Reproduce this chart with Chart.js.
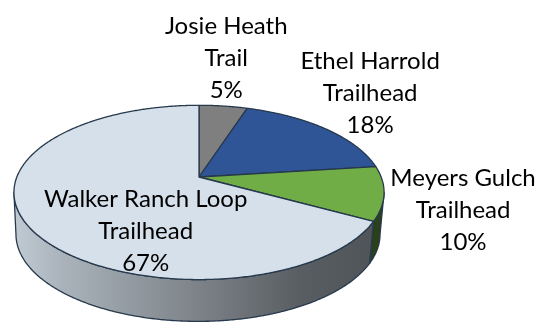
<!DOCTYPE html>
<html>
<head>
<meta charset="utf-8">
<script src="https://cdn.jsdelivr.net/npm/chart.js@4.4.1/dist/chart.umd.min.js"></script>
<style>
  html, body { margin: 0; padding: 0; background: #ffffff; }
  #wrap { width: 541px; height: 323px; }
</style>
</head>
<body>
<div id="wrap"><canvas id="visits" width="541" height="323"></canvas></div>
<script>
// Trailhead names (one entry per label line) and their share of visits, in percent
const trailNames = [
  ['Josie Heath', 'Trail'],
  ['Ethel Harrold', 'Trailhead'],
  ['Meyers Gulch', 'Trailhead'],
  ['Walker Ranch Loop', 'Trailhead']
];
const shares = [5, 18, 10, 67];
const sliceColors = ['#7f7f7f', '#2f5597', '#70ad47', '#d5e0ea'];

// Perspective of the tilted disc, in multiples of the radius Chart.js lays out
const VIEW = {
  sx: 183 / 140,        // horizontal half-width of the top face
  sy: 84.8 / 140,       // vertical squash of the top face
  k: 0.177,             // foreshortening: far rim shrinks, near rim grows
  depth: 42 / 140,      // thickness of the disc
  bottomShift: -1 / 140,
  bottomScale: 180 / 183
};
// Side-wall lighting from the left (position across the disc, brightness factor)
const SHADE_STOPS = [[0, 0.9], [0.13, 0.8], [0.5, 0.58], [0.77, 0.42], [1, 0.37]];
// Label block centre relative to the rim point at each slice's mid angle
const LABEL_NUDGE = [[3, -49], [45, -36], [79, 16], [119, 6]];
const LABEL_FONT = '24px Lato';
const LINE_GAP = 32;
const CAP = 17;

function project(arc, ang, bottom) {
  const R = arc.outerRadius;
  const u = Math.cos(ang), v = -Math.sin(ang);
  const d = 1 + VIEW.k * v;
  const sx = VIEW.sx * (bottom ? VIEW.bottomScale : 1);
  return {
    x: arc.x + (bottom ? VIEW.bottomShift * R : 0) + sx * R * u / d,
    y: arc.y + (bottom ? VIEW.depth * R : 0) - VIEW.sy * R * v / d
  };
}

function shade(hex, f) {
  const n = parseInt(hex.slice(1), 16);
  const r = Math.round(((n >> 16) & 255) * f);
  const g = Math.round(((n >> 8) & 255) * f);
  const b = Math.round((n & 255) * f);
  return `rgb(${r},${g},${b})`;
}

function rimPath(ctx, arc, a0, a1, bottom, first) {
  const step = Math.PI / 360;
  const dir = a1 >= a0 ? 1 : -1;
  for (let a = a0; ; a += dir * step) {
    const t = dir > 0 ? Math.min(a, a1) : Math.max(a, a1);
    const p = project(arc, t, bottom);
    if (first && a === a0) ctx.moveTo(p.x, p.y); else ctx.lineTo(p.x, p.y);
    if (t === a1) break;
  }
}

// Pie controller that draws its arcs as a thick disc seen in perspective
class Pie3DController extends Chart.PieController {
  static id = 'pie3d';
  draw() {
    const ctx = this.chart.ctx;
    const arcs = this._cachedMeta.data;
    if (!arcs.length) return;
    const lo = Math.asin(VIEW.k), hi = Math.PI - lo;
    const left = project(arcs[0], hi, false).x;
    const right = project(arcs[0], lo, false).x;
    ctx.save();
    ctx.lineJoin = 'round';

    // front wall
    arcs.forEach((arc) => {
      const a0 = Math.max(arc.startAngle, lo);
      const a1 = Math.min(arc.endAngle, hi);
      if (a1 <= a0) return;
      ctx.beginPath();
      rimPath(ctx, arc, a0, a1, false, true);
      rimPath(ctx, arc, a1, a0, true, false);
      ctx.closePath();
      const g = ctx.createLinearGradient(left, 0, right, 0);
      SHADE_STOPS.forEach(([pos, f]) => g.addColorStop(pos, shade(arc.options.backgroundColor, f)));
      ctx.fillStyle = g;
      ctx.fill();
      ctx.strokeStyle = arc.options.borderColor;
      ctx.lineWidth = arc.options.borderWidth;
      ctx.stroke();
    });

    // top faces
    arcs.forEach((arc) => {
      ctx.beginPath();
      ctx.moveTo(arc.x, arc.y);
      rimPath(ctx, arc, arc.startAngle, arc.endAngle, false, false);
      ctx.closePath();
      ctx.fillStyle = arc.options.backgroundColor;
      ctx.fill();
      ctx.strokeStyle = arc.options.borderColor;
      ctx.lineWidth = arc.options.borderWidth;
      ctx.stroke();
    });
    ctx.restore();
  }
}
Chart.register(Pie3DController);

const sliceLabels = {
  id: 'sliceLabels',
  afterDatasetsDraw(chart) {
    const ctx = chart.ctx;
    const arcs = chart.getDatasetMeta(0).data;
    const total = shares.reduce((s, v) => s + v, 0);
    ctx.save();
    ctx.font = LABEL_FONT;
    ctx.fillStyle = '#000000';
    ctx.textAlign = 'center';
    ctx.textBaseline = 'alphabetic';
    arcs.forEach((arc, i) => {
      const mid = (arc.startAngle + arc.endAngle) / 2;
      const p = project(arc, mid, false);
      const cx = p.x + LABEL_NUDGE[i][0];
      const cy = p.y + LABEL_NUDGE[i][1];
      const lines = [...trailNames[i], Math.round(shares[i] / total * 100) + '%'];
      const top = cy + CAP / 2 - (lines.length - 1) / 2 * LINE_GAP;
      lines.forEach((t, j) => ctx.fillText(t, cx, top + j * LINE_GAP));
    });
    ctx.restore();
  }
};

new Chart(document.getElementById('visits'), {
  type: 'pie3d',
  data: {
    labels: trailNames.map((n) => n.join(' ')),
    datasets: [{
      data: shares,
      backgroundColor: sliceColors,
      borderColor: '#27394d',
      borderWidth: 1.3
    }]
  },
  options: {
    responsive: false,
    animation: false,
    devicePixelRatio: 1,
    events: [],
    layout: { padding: { left: 59, right: 202, top: 37, bottom: 6 } },
    plugins: { legend: { display: false }, tooltip: { enabled: false } }
  },
  plugins: [sliceLabels]
});
</script>
</body>
</html>
